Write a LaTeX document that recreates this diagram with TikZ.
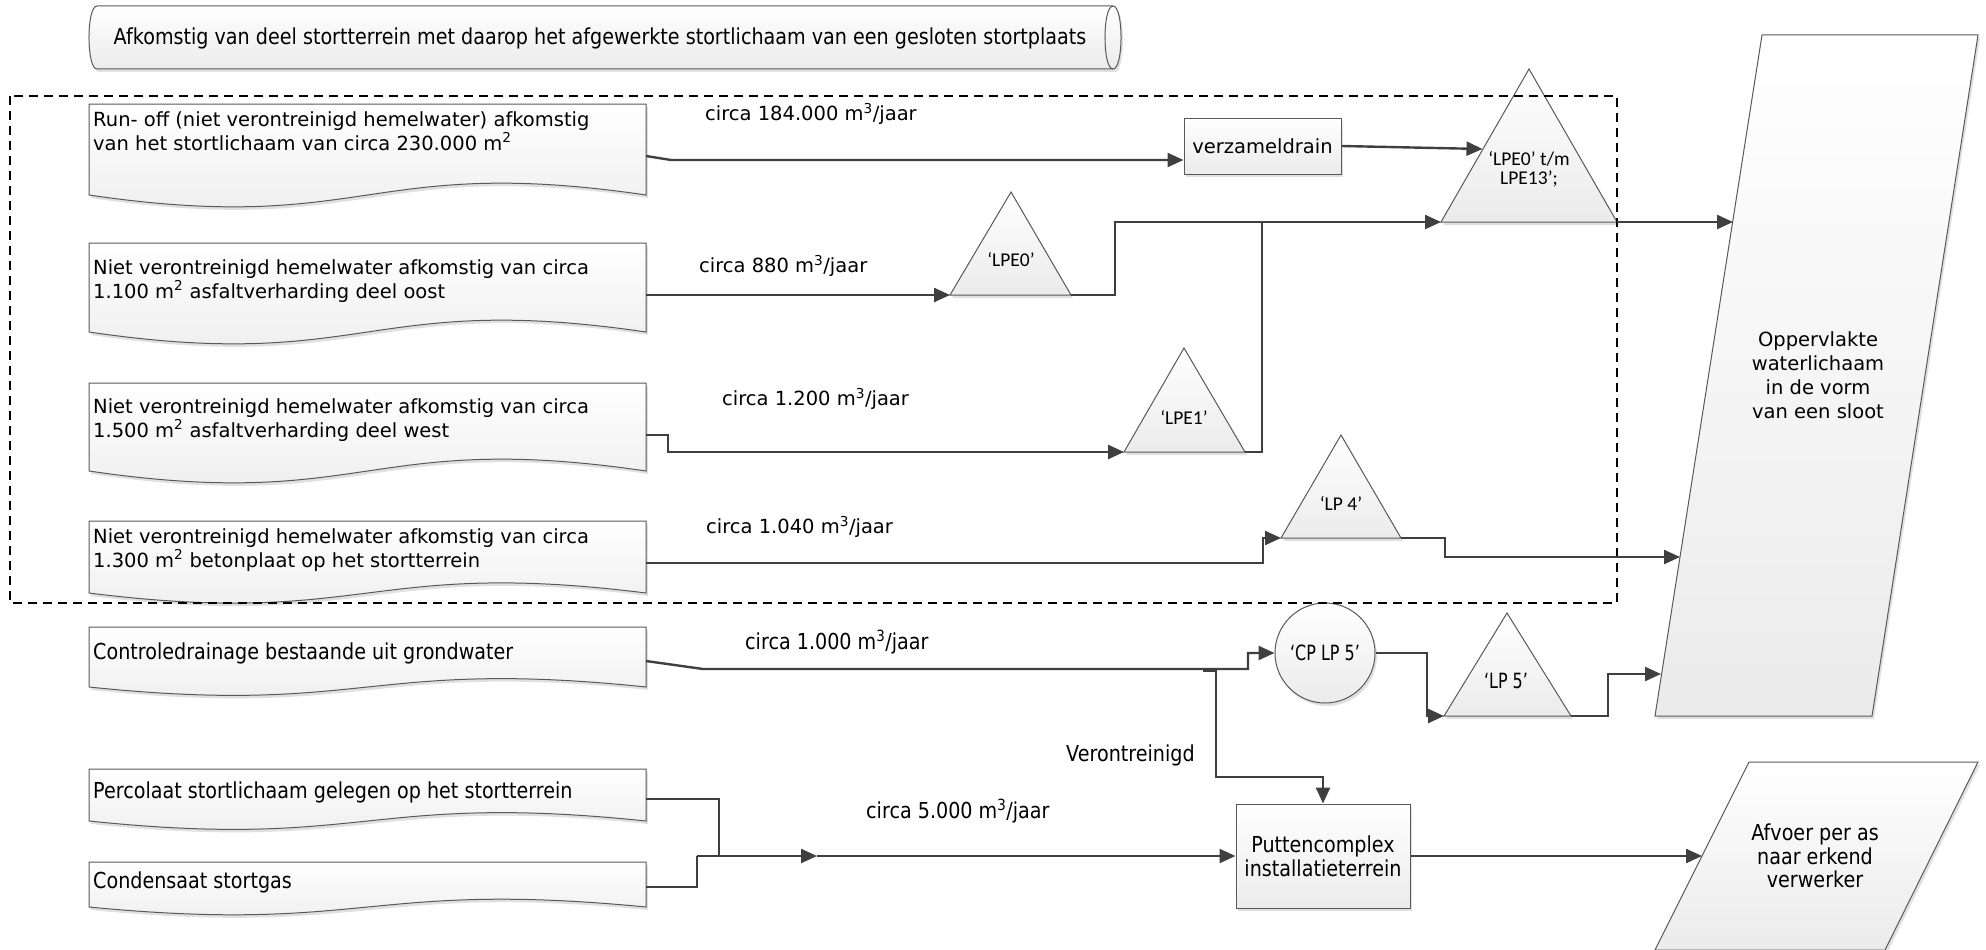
\documentclass[tikz,border=0pt]{standalone}
\usepackage{fontspec}
\setmainfont{DejaVu Sans}
\newfontfamily\condf[FakeStretch=0.87]{DejaVu Sans}
\newfontfamily\narrowf[FakeStretch=0.76]{DejaVu Sans}
\newfontfamily\calif{Carlito}
\usetikzlibrary{arrows.meta,shadows}

\definecolor{linec}{HTML}{3F3F3F}
\definecolor{edgec}{HTML}{595959}
\definecolor{fillb}{HTML}{EBEBEB}

\newcommand{\vfont}{\fontsize{19.5}{24}\selectfont}
\newcommand{\cfont}{\condf\fontsize{22}{24}\selectfont}
\newcommand{\nfont}{\narrowf\fontsize{21}{24}\selectfont}
\newcommand{\lfont}{\calif\fontsize{19.5}{19}\selectfont}

\tikzset{
  shapefill/.style={draw=edgec, line width=1pt, top color=white, bottom color=fillb,
    drop shadow={shadow xshift=2pt,shadow yshift=-3pt,fill=black,opacity=0.12}},
  rectbox/.style={shapefill, inner sep=0pt},
  conn/.style={draw=linec, line width=2.4pt},
  arr/.style={conn, -{Triangle[length=16pt,width=14pt]}},
  dashbox/.style={draw=black, line width=2pt, dash pattern=on 9pt off 6pt},
  vtext/.style={font=\vfont, anchor=west, align=left, inner sep=0pt},
  ctext/.style={font=\cfont, anchor=west, align=left, inner sep=0pt},
  vlabel/.style={font=\vfont, anchor=west, inner sep=0pt},
  clabel/.style={font=\cfont, anchor=west, inner sep=0pt},
  trilabel/.style={font=\lfont, align=center, inner sep=0pt},
}

% document shape: #1 x0, #2 y0, #3 x1, #4 yb, #5 wave control offset
\newcommand{\docbox}[5]{%
  \path[shapefill] (#1,#2) -- (#3,#2) -- (#3,#4)
    .. controls ({0.5*(#1+#3)},{#4-#5}) and ({0.5*(#1+#3)},{#4+#5}) .. (#1,#4) -- cycle;
}

\begin{document}
\begin{tikzpicture}[x=1pt,y=-1pt]
\useasboundingbox (0,0) rectangle (1986,950);

% ---------- top cylinder ----------
\path[shapefill] (97,6) -- (1113,6) .. controls (1123.7,6) and (1123.7,69) .. (1113,69)
  -- (97,69) .. controls (86.3,69) and (86.3,6) .. (97,6) -- cycle;
\draw[draw=edgec,line width=1pt] (1113,6) .. controls (1102.3,6) and (1102.3,69) .. (1113,69);
\node[font=\cfont, inner sep=0pt] (toplabel) at (600,38)
  {Afkomstig van deel stortterrein met daarop het afgewerkte stortlichaam van een gesloten stortplaats};

% ---------- source documents ----------
\docbox{89}{104}{646}{195}{41}
\node[vtext] (t1) at (93,131) {Run- off (niet verontreinigd hemelwater) afkomstig\\van het stortlichaam van circa 230.000 m\textsuperscript{2}};
\coordinate (d1r) at (646,156);

\docbox{89}{243}{646}{332}{41}
\node[vtext] (t2) at (93,281) {Niet verontreinigd hemelwater afkomstig van circa\\1.100 m\textsuperscript{2} asfaltverharding deel oost};
\coordinate (d2r) at (646,295);

\docbox{89}{383}{646}{471}{41}
\node[vtext] (t3) at (93,420) {Niet verontreinigd hemelwater afkomstig van circa\\1.500 m\textsuperscript{2} asfaltverharding deel west};
\coordinate (d3r) at (646,435);

\docbox{89}{521}{646}{593}{35}
\node[vtext] (t4) at (93,550) {Niet verontreinigd hemelwater afkomstig van circa\\1.300 m\textsuperscript{2} betonplaat op het stortterrein};
\coordinate (d4r) at (646,563);

\docbox{89}{627}{646}{687}{29}
\node[ctext] (t5) at (93,653) {Controledrainage bestaande uit grondwater};
\coordinate (d5r) at (646,661);

\docbox{89}{769}{646}{821}{29}
\node[ctext] (t6) at (93,792) {Percolaat stortlichaam gelegen op het stortterrein};
\coordinate (d6r) at (646,799);

\docbox{89}{862}{646}{907}{27}
\node[ctext] (t7) at (93,882) {Condensaat stortgas};
\coordinate (d7r) at (646,887);

% ---------- triangles ----------
\coordinate (t13a) at (1529,69);  \coordinate (t13bl) at (1441,222); \coordinate (t13br) at (1617,222);
\coordinate (t0a) at (1011,192);  \coordinate (t0bl) at (950,295);   \coordinate (t0br) at (1071,295);
\coordinate (t1a) at (1184,348);  \coordinate (t1bl) at (1124,452);  \coordinate (t1br) at (1245,452);
\coordinate (t4a) at (1341,435);  \coordinate (t4bl) at (1281,538);  \coordinate (t4br) at (1401,538);
\coordinate (t5a) at (1507,613);  \coordinate (t5bl) at (1444,716);  \coordinate (t5br) at (1571,716);
\foreach \n in {t13,t0,t1,t4,t5}{
  \path[shapefill] (\n a) -- (\n br) -- (\n bl) -- cycle;
}
\node[trilabel] (l13) at (1529,169) {‘LPE0’ t/m\\LPE13’;};
\node[trilabel] (l0) at (1011,260) {‘LPE0’};
\node[trilabel] (l1) at (1184,417) {‘LPE1’};
\node[trilabel] (l4) at (1341,503) {‘LP 4’};
\node[font=\nfont, inner sep=0pt] (l5) at (1506,681) {‘LP 5’};

% ---------- boxes, circle ----------
\node[rectbox, minimum width=157pt, minimum height=56pt, font=\vfont] (vz) at (1262.5,146) {verzameldrain};
\node[rectbox, minimum width=174pt, minimum height=104pt, font=\cfont, align=center] (pc) at (1323,856) {Puttencomplex\\installatieterrein};
\node[circle, shapefill, minimum size=100pt, inner sep=0pt, font=\nfont] (cp) at (1325,653) {‘CP LP 5’};

% ---------- parallelograms ----------
\path[shapefill] (1762,35) -- (1978,35) -- (1872,716) -- (1655,716) -- cycle;
\node[font=\vfont, align=center, inner sep=0pt] (opp) at (1818,375) {Oppervlakte\\waterlichaam\\in de vorm\\van een sloot};
\path[shapefill] (1749,762) -- (1978,762) -- (1885,950) -- (1655,950) -- cycle;
\node[font=\condf\fontsize{22}{23.5}\selectfont, align=center, inner sep=0pt] (afv) at (1815,856) {Afvoer per as\\naar erkend\\verwerker};
\coordinate (oppin1) at (1733,222);
\coordinate (oppin2) at (1680,557);
\coordinate (oppin3) at (1661,674);
\coordinate (afin) at (1702,856);
\coordinate (t13in) at (1482.5,149);

% ---------- dashed area ----------
\draw[dashbox] (10,96) rectangle (1617,603);

% ---------- connectors ----------
\coordinate (j1) at (671,160);
\draw[arr] (d1r) -- (j1) -- (vz.west |- j1);
\draw[arr] (vz.east) -- (t13in);

\draw[arr] (d2r) -- (t0bl);
\draw[arr] (t0br) -- (1115,295) -- (1115,222) -- (t13bl);

\draw[arr] (d3r) -- (668,435) -- (668,452) -- (t1bl);
\draw[conn] (t1br) -- (1262,452) -- (1262,222);

\draw[arr] (t13br) -- (oppin1);

\draw[arr] (d4r) -- (1263,563) -- (1263,538) -- (t4bl);
\draw[arr] (t4br) -- (1445,538) -- (1445,557) -- (oppin2);

\draw[arr] (d5r) -- (703,669) -- (1248,669) -- (1248,653) -- (cp.west);
\coordinate (br0) at (1203,671);
\draw[arr] (br0) -- (1216,671) -- (1216,777) -- (pc.north |- 0,777) -- (pc.north);

\draw[arr] (cp.east) -- (1427,653) -- (1427,716) -- (t5bl);
\draw[arr] (t5br) -- (1608,716) -- (1608,674) -- (oppin3);

\coordinate (jm) at (697,856);
\coordinate (mid) at (817,856);
\draw[conn] (d6r) -- (719,799) -- (719,856);
\draw[conn] (d7r) -- (697,887) -- (jm);
\draw[arr] (jm) -- (mid);
\draw[arr] (mid) -- (pc.west);
\draw[arr] (pc.east) -- (afin);

% ---------- flow labels ----------
\node[vlabel] (f1) at (705,114) {circa 184.000 m\textsuperscript{3}/jaar};
\node[vlabel] (f2) at (699,266) {circa 880 m\textsuperscript{3}/jaar};
\node[vlabel] (f3) at (722,399) {circa 1.200 m\textsuperscript{3}/jaar};
\node[vlabel] (f4) at (706,527) {circa 1.040 m\textsuperscript{3}/jaar};
\node[clabel] (f5) at (745,642) {circa 1.000 m\textsuperscript{3}/jaar};
\node[clabel] (f6) at (866,811) {circa 5.000 m\textsuperscript{3}/jaar};
\node[clabel] (f7) at (1066,755) {Verontreinigd};

\end{tikzpicture}
\end{document}
